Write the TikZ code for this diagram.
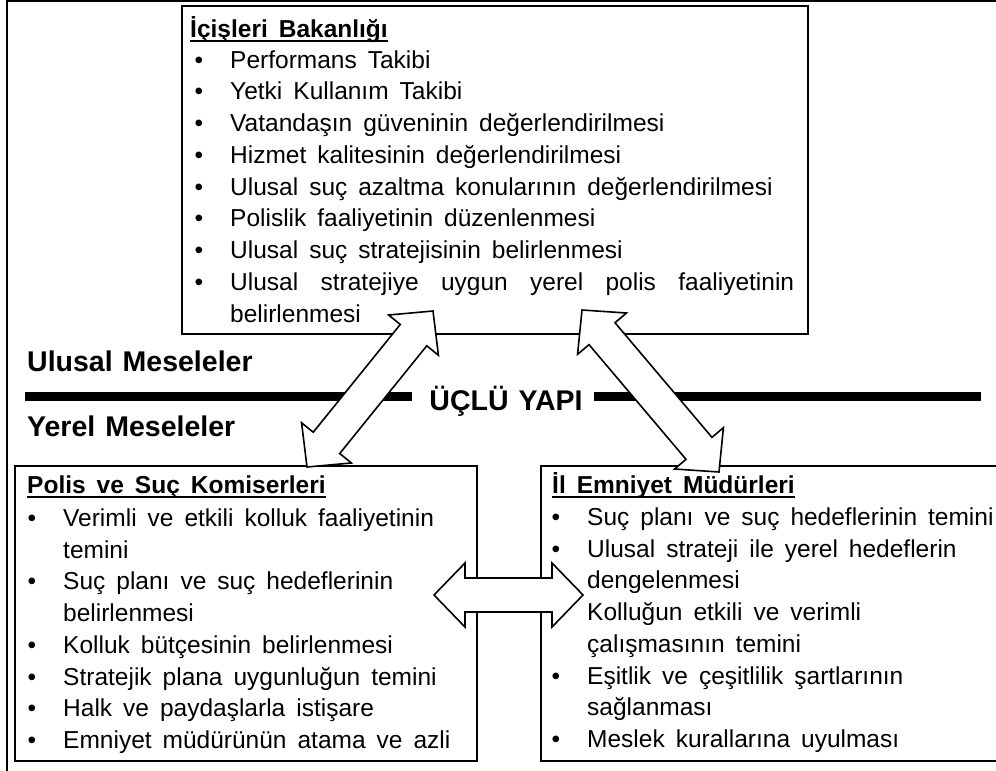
\documentclass[tikz,border=0pt]{standalone}
\usepackage{fontspec}
\setmainfont{Liberation Sans}
\usetikzlibrary{calc}

% text settings
\newcommand\bodyfont{\fontsize{24.5pt}{31.7pt}\selectfont\spaceskip=11pt plus 1pt minus 1pt\relax}
\newcommand\bigfont{\fontsize{28.5pt}{34pt}\selectfont\bfseries\spaceskip=10pt plus 1pt minus 1pt\relax}
% bullet hanging left of the item text
\newcommand\bul{\llap{•\hspace{27pt}}}
% bold underlined box title
\newcommand\boxtitle[1]{\setbox0\hbox{\bfseries #1}\rlap{\rule[-4.5pt]{\wd0}{1.8pt}}\box0}
% white block arrow with a head at both ends, tip to tip
\newcommand\blockarrow[2]{%
  \draw[arrowbody]
    (#1) -- ($(#1)!31pt!(#2)!32pt!90:(#2)$)
    -- ($(#1)!31pt!(#2)!17pt!90:(#2)$)
    -- ($(#2)!31pt!(#1)!17pt!-90:(#1)$)
    -- ($(#2)!31pt!(#1)!32pt!-90:(#1)$)
    -- (#2)
    -- ($(#2)!31pt!(#1)!32pt!90:(#1)$)
    -- ($(#2)!31pt!(#1)!17pt!90:(#1)$)
    -- ($(#1)!31pt!(#2)!17pt!-90:(#2)$)
    -- ($(#1)!31pt!(#2)!32pt!-90:(#2)$)
    -- cycle;}

\tikzset{
  frameline/.style={line width=2pt},
  panel/.style={draw, line width=2pt, fill=white, inner sep=0pt, anchor=north west},
  txt/.style={anchor=base west, inner sep=0pt, font=\bodyfont},
  bigtxt/.style={anchor=base west, inner sep=0pt, font=\bigfont},
  divider/.style={line width=9pt},
  arrowbody/.style={draw, fill=white, line width=1.6pt, line join=miter},
}

\begin{document}
\begin{tikzpicture}[x=1pt, y=-1pt]
\useasboundingbox (0,0) rectangle (996,771);

% outer frame (top and left)
\draw[frameline] (996,1) -- (7,1) -- (7,771);

% panels
\node[panel, minimum width=626pt, minimum height=328pt] (ministry) at (181,5) {};
\node[panel, minimum width=462pt, minimum height=295pt] (commissioners) at (14,465) {};
\node[panel, minimum width=470pt, minimum height=295pt] (chiefs) at (540,465) {};

% ministry panel text
\node[txt] (ministry-title) at (190,37) {\boxtitle{İçişleri Bakanlığı}};
\foreach \t [count=\i from 0] in {
  {\bul Performans Takibi},
  {\bul Yetki Kullanım Takibi},
  {\bul Vatandaşın güveninin değerlendirilmesi},
  {\bul Hizmet kalitesinin değerlendirilmesi},
  {\bul Ulusal suç azaltma konularının değerlendirilmesi},
  {\bul Polislik faaliyetinin düzenlenmesi},
  {\bul Ulusal suç stratejisinin belirlenmesi},
  {\bul\makebox[564pt][s]{Ulusal stratejiye uygun yerel polis faaliyetinin}},
  {belirlenmesi}}
  \node[txt, name=ministry-\i] at (230,{68+31.75*\i}) {\t};

% commissioners panel text
\node[txt] (comm-title) at (27,493) {\boxtitle{Polis ve Suç Komiserleri}};
\foreach \t [count=\i from 0] in {
  {\bul Verimli ve etkili kolluk faaliyetinin},
  {temini},
  {\bul Suç planı ve suç hedeflerinin},
  {belirlenmesi},
  {\bul Kolluk bütçesinin belirlenmesi},
  {\bul Stratejik plana uygunluğun temini},
  {\bul Halk ve paydaşlarla istişare},
  {\bul Emniyet müdürünün atama ve azli}}
  \node[txt, name=comm-\i] at (63,{526.5+31.7*\i}) {\t};

% chiefs panel text
\node[txt] (chiefs-title) at (552,493) {\boxtitle{İl Emniyet Müdürleri}};
\foreach \t [count=\i from 0] in {
  {\bul Suç planı ve suç hedeflerinin temini},
  {\bul Ulusal strateji ile yerel hedeflerin},
  {dengelenmesi},
  {Kolluğun etkili ve verimli},
  {çalışmasının temini},
  {\bul Eşitlik ve çeşitlilik şartlarının},
  {sağlanması},
  {\bul Meslek kurallarına uyulması}}
  \node[txt, name=chiefs-\i] at (587,{525.5+31.7*\i}) {\t};

% national / local divider
\node[bigtxt] (national) at (27,371) {Ulusal Meseleler};
\node[bigtxt] (local) at (27,436) {Yerel Meseleler};
\node[bigtxt, anchor=base] (triple) at (506,410) {ÜÇLÜ YAPI};
\coordinate (divL) at (25,396.5);
\coordinate (gapL) at (412,396.5);
\coordinate (gapR) at (594,396.5);
\coordinate (divR) at (981,396.5);
\draw[divider] (divL) -- (gapL);
\draw[divider] (gapR) -- (divR);

% arrow tips
\coordinate (mL) at (433,311);
\coordinate (cT) at (307,467);
\coordinate (mR) at (582,310);
\coordinate (hT) at (719,472);
\coordinate (cR) at (434,595);
\coordinate (hL) at (583,595);

\blockarrow{cT}{mL}
\blockarrow{mR}{hT}
\blockarrow{cR}{hL}
\end{tikzpicture}
\end{document}
